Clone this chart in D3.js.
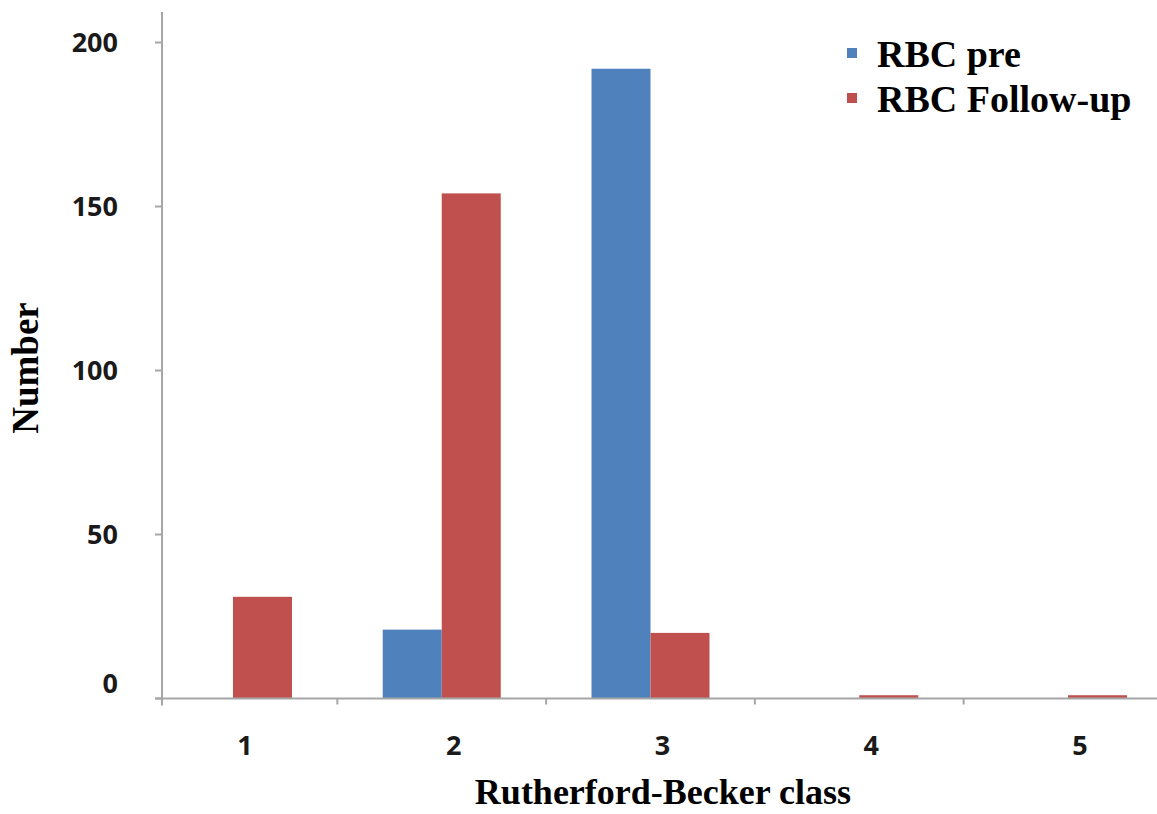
<!DOCTYPE html>
<html>
<head>
<meta charset="utf-8">
<script src="https://cdn.jsdelivr.net/npm/d3@7"></script>
<style>
  html, body { margin: 0; padding: 0; background: #ffffff; }
  svg { display: block; }
</style>
</head>
<body>
<svg id="chart" width="1157" height="814"></svg>
<script>
// Rutherford-Becker classes and patient counts before and at follow-up
const classes = ["1", "2", "3", "4", "5"];
const seriesNames = ["RBC pre", "RBC Follow-up"];
const rbcPre = [0, 21, 192, 0, 0];
const rbcFollowUp = [31, 154, 20, 1, 1];
const yTicks = [0, 50, 100, 150, 200];
const seriesColors = ["#4f81bd", "#c0504d"];

const svg = d3.select("#chart");
const W = 1157, H = 814;

// Plot frame
const axisX = 162;      // y-axis position
const baseY = 698.5;    // x-axis position
const topY = 12;

const y = d3.scaleLinear().domain([0, 200]).range([baseY, 42.5]);

const x0 = d3.scaleBand().domain(classes).range([128.6, 1172.4]).padding(0);
const x1 = d3.scaleBand().domain(seriesNames).range([-59, 59]).padding(0);

const rows = classes.map((c, i) => ({ cls: c, values: [rbcPre[i], rbcFollowUp[i]] }));

// Bars
const groups = svg.append("g").selectAll("g")
  .data(rows).join("g")
  .attr("transform", d => `translate(${x0(d.cls) + x0.bandwidth() / 2},0)`);

groups.selectAll("rect")
  .data(d => d.values.map((v, k) => ({ name: seriesNames[k], v, k })))
  .join("rect")
  .attr("x", d => x1(d.name))
  .attr("width", x1.bandwidth())
  .attr("y", d => y(d.v))
  .attr("height", d => baseY - y(d.v))
  .attr("fill", d => seriesColors[d.k]);

// Y axis
const axisColor = "#a6a6a6";
svg.append("line")
  .attr("x1", axisX).attr("x2", axisX)
  .attr("y1", topY).attr("y2", baseY + 7)
  .attr("stroke", axisColor).attr("stroke-width", 2);

const yAxis = svg.append("g");
yAxis.selectAll("line.tick")
  .data(yTicks).join("line")
  .attr("class", "tick")
  .attr("x1", axisX - 7).attr("x2", axisX)
  .attr("y1", d => y(d)).attr("y2", d => y(d))
  .attr("stroke", axisColor).attr("stroke-width", 2);

yAxis.selectAll("text")
  .data(yTicks).join("text")
  .attr("x", 118)
  .attr("y", d => y(d) - (d === 0 ? 15 : 0))
  .attr("dy", "0.36em")
  .attr("text-anchor", "end")
  .attr("font-family", "'Open Sans', sans-serif")
  .attr("font-weight", 700)
  .attr("font-size", 27)
  .attr("fill", "#1a1a1a")
  .text(d => d);

// X axis
svg.append("line")
  .attr("x1", axisX - 7).attr("x2", W)
  .attr("y1", baseY).attr("y2", baseY)
  .attr("stroke", axisColor).attr("stroke-width", 2);

const boundaries = classes.slice(1).map(c => x0(c));
svg.append("g").selectAll("line")
  .data(boundaries).join("line")
  .attr("x1", d => d).attr("x2", d => d)
  .attr("y1", baseY).attr("y2", baseY + 6)
  .attr("stroke", axisColor).attr("stroke-width", 2);

svg.append("g").selectAll("text")
  .data(classes).join("text")
  .attr("x", d => x0(d) + x0.bandwidth() / 2 + 12)
  .attr("y", 745)
  .attr("dy", "0.36em")
  .attr("text-anchor", "middle")
  .attr("font-family", "'Open Sans', sans-serif")
  .attr("font-weight", 700)
  .attr("font-size", 27)
  .attr("fill", "#1a1a1a")
  .text(d => d);

// Axis titles
svg.append("text")
  .attr("x", 663).attr("y", 804)
  .attr("text-anchor", "middle")
  .attr("font-family", "'Liberation Serif', 'Times New Roman', serif")
  .attr("font-weight", 700)
  .attr("font-size", 36)
  .attr("fill", "#000")
  .text("Rutherford-Becker class");

svg.append("text")
  .attr("transform", "translate(38,368) rotate(-90)")
  .attr("text-anchor", "middle")
  .attr("font-family", "'Liberation Serif', 'Times New Roman', serif")
  .attr("font-weight", 700)
  .attr("font-size", 37)
  .attr("fill", "#000")
  .text("Number");

// Legend
const legend = svg.append("g").attr("transform", "translate(847,0)");
const legendRows = legend.selectAll("g")
  .data(seriesNames).join("g")
  .attr("transform", (d, i) => `translate(0,${67 + i * 45})`);
legendRows.append("rect")
  .attr("x", 0).attr("y", -19)
  .attr("width", 10).attr("height", 10)
  .attr("fill", (d, i) => seriesColors[i]);
legendRows.append("text")
  .attr("x", 30).attr("y", 0)
  .attr("font-family", "'Liberation Serif', 'Times New Roman', serif")
  .attr("font-weight", 700)
  .attr("font-size", 38)
  .attr("fill", "#000")
  .text(d => d);
</script>
</body>
</html>
